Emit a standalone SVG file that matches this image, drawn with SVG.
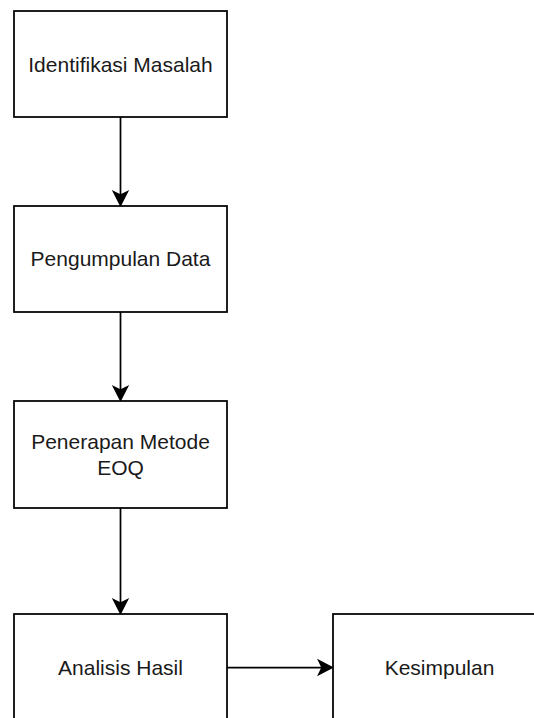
<svg xmlns="http://www.w3.org/2000/svg" width="534" height="718" viewBox="0 0 534 718">
<style>
.box{fill:#fff;stroke:#000;stroke-width:1.75}
.lbl{font-family:"Liberation Sans",Arial,Helvetica,sans-serif;font-size:21px;fill:#1a1a1a;text-anchor:middle}
.edge{fill:none;stroke:#000;stroke-width:1.75}
.head{fill:#000;stroke:#000;stroke-width:1.75}
</style>
<rect width="534" height="718" fill="#fff"/>
<g id="connectors">
<path class="edge" d="M120.5 117 V198"/>
<path class="head" d="M120.5 205 L113.8 192 L120.5 195.3 L127.2 192 Z"/>
<path class="edge" d="M120.5 312 V393"/>
<path class="head" d="M120.5 400 L113.8 387 L120.5 390.3 L127.2 387 Z"/>
<path class="edge" d="M120.5 508 V606"/>
<path class="head" d="M120.5 613 L113.8 600 L120.5 603.3 L127.2 600 Z"/>
<path class="edge" d="M227 667.5 H325"/>
<path class="head" d="M332 667.5 L319 660.8 L322.3 667.5 L319 674.2 Z"/>
</g>
<g id="node-identifikasi">
<rect class="box" x="14" y="11" width="213" height="106"/>
<text class="lbl" x="120.5" y="71.5">Identifikasi Masalah</text>
</g>
<g id="node-pengumpulan">
<rect class="box" x="14" y="206" width="213" height="106"/>
<text class="lbl" x="120.5" y="266">Pengumpulan Data</text>
</g>
<g id="node-penerapan">
<rect class="box" x="14" y="401" width="213" height="107"/>
<text class="lbl" x="120.5" y="449">Penerapan Metode</text>
<text class="lbl" x="120.5" y="475">EOQ</text>
</g>
<g id="node-analisis">
<rect class="box" x="14" y="614" width="213" height="107"/>
<text class="lbl" x="120.5" y="674.5">Analisis Hasil</text>
</g>
<g id="node-kesimpulan">
<rect class="box" x="333" y="614" width="213" height="107"/>
<text class="lbl" x="439.5" y="674.5">Kesimpulan</text>
</g>
</svg>
